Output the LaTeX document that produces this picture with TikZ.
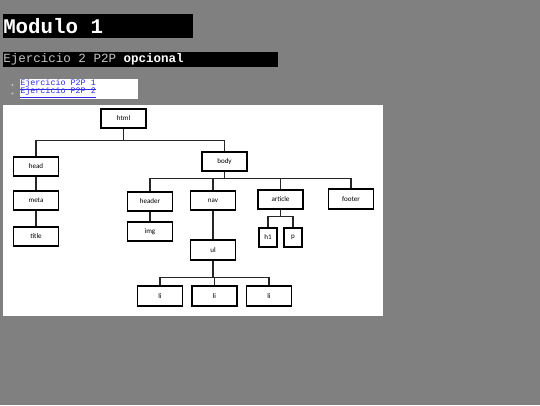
\documentclass[tikz,border=0pt]{standalone}
\usepackage{fontspec}
\setmainfont{Carlito}
\newfontfamily\couriermono{Liberation Mono}
\definecolor{pagegray}{RGB}{128,128,128}
\definecolor{linkblue}{RGB}{45,45,230}
\definecolor{subgray}{RGB}{195,195,195}

\begin{document}
\begin{tikzpicture}[x=0.75pt,y=-0.75pt,
    box/.style={draw,line width=1.4pt,minimum width=33.8pt,minimum height=14.4pt,inner sep=0pt,font=\fontsize{5.3}{6}\selectfont},
    narrow/.style={box,minimum width=13.6pt},
    link/.style={black!85,line width=0.8pt},
    mono/.style={anchor=west,inner sep=0pt}]
    \useasboundingbox (0,0) rectangle (540,405);
    \fill[pagegray] (0,0) rectangle (540,405);

    \fill[black] (3,14) rectangle (193,38);
    \node[mono,white,font=\couriermono\bfseries\fontsize{15.6}{18}\selectfont] (modulo) at (3,26.5) {Modulo 1};
    \fill[black] (3,52) rectangle (278,67);
    \node[mono,subgray,font=\couriermono\fontsize{9.4}{11}\selectfont] (ejercicio) at (3,59.5) {Ejercicio 2 P2P \textcolor{white}{\bfseries opcional}};
    \fill[white] (20,79) rectangle (138,99);
    \fill[subgray] (12.5,85) circle (1.2);
    \fill[subgray] (12.5,93.5) circle (1.2);
    \node[mono,linkblue,font=\couriermono\fontsize{6.3}{7}\selectfont] (lnkA) at (20,84.5) {\underline{Ejercicio P2P 1}};
    \node[mono,linkblue,font=\couriermono\fontsize{6.3}{7}\selectfont] (lnkB) at (20,93) {\underline{Ejercicio P2P 2}};

    \fill[white] (3,105) rectangle (383,316);
    \node[box] (html) at (123.5,118.5) {html};
    \node[box] (head) at (36,166.5) {head};
    \node[box] (meta) at (36,200.5) {meta};
    \node[box] (title) at (36,236.5) {title};
    \node[box] (body) at (224.5,161.5) {body};
    \node[box] (header) at (150,201.5) {header};
    \node[box] (img) at (150,231.5) {img};
    \node[box] (nav) at (213,200.5) {nav};
    \node[box] (ul) at (213,250) {ul};
    \node[box] (li1) at (160,296) {li};
    \node[box] (li2) at (214.5,296) {li};
    \node[box] (li3) at (269,296) {li};
    \node[box] (article) at (280.5,199.5) {article};
    \node[narrow] (h1) at (268,237.5) {h1};
    \node[narrow] (p) at (293,237.5) {p};
    \node[box] (footer) at (351,199) {footer};

    \draw[link] (html.south) -- ++(0,11) -| (head.north);
    \draw[link] (html.south) -- ++(0,11) -| (body.north);
    \draw[link] (head) -- (meta);
    \draw[link] (meta) -- (title);
    \draw[link] (body.south) -- ++(0,6) -| (header.north);
    \draw[link] (body.south) -- ++(0,6) -| (nav.north);
    \draw[link] (body.south) -- ++(0,6) -| (article.north);
    \draw[link] (body.south) -- ++(0,6) -| (footer.north);
    \draw[link] (header) -- (img);
    \draw[link] (nav) -- (ul);
    \draw[link] (ul.south) -- ++(0,17) -| (li1.north);
    \draw[link] (ul.south) -- ++(0,17) -| (li2.north);
    \draw[link] (ul.south) -- ++(0,17) -| (li3.north);
    \draw[link] (article.south) -- ++(0,6) -| (h1.north);
    \draw[link] (article.south) -- ++(0,6) -| (p.north);
\end{tikzpicture}
\end{document}
